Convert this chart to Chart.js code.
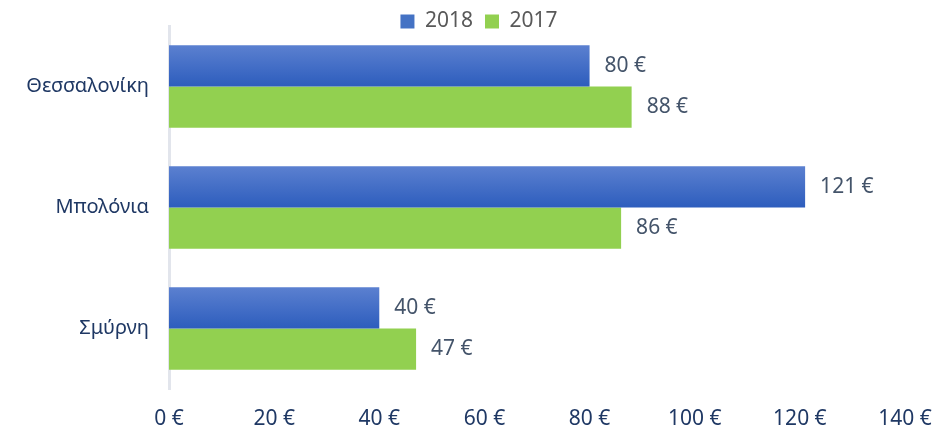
<!DOCTYPE html>
<html lang="el">
<head>
    <meta charset="UTF-8">
    <title>2018 - 2017</title>
    <script src="https://cdn.jsdelivr.net/npm/chart.js"></script>
    <style>
        body { margin: 0; background: #fff; }
        #wrap { width: 934px; height: 429px; }
    </style>
</head>
<body>
    <div id="wrap"><canvas id="chart"></canvas></div>

    <script>
        const cities = ['Θεσσαλονίκη', 'Μπολόνια', 'Σμύρνη'];
        const values2018 = [80, 121, 40];
        const values2017 = [88, 86, 47];
        const xTicks = [0, 20, 40, 60, 80, 100, 120, 140];

        const fontFamily = '"Noto Sans", "Liberation Sans", sans-serif';
        const euro = v => v + ' €';

        // blue bars get a soft vertical gradient, like the office chart
        const barGradient = {
            id: 'barGradient',
            beforeDatasetDraw(chart, args) {
                if (args.index !== 0) return;
                const c = chart.ctx;
                args.meta.data.forEach(el => {
                    const top = el.y - el.height / 2;
                    const g = c.createLinearGradient(0, top, 0, top + el.height);
                    g.addColorStop(0, '#5b80d0');
                    g.addColorStop(1, '#2d5dbd');
                    el.options.backgroundColor = g;
                });
            }
        };

        // keep the legend band short so the plot starts right under it
        const legendTweak = {
            id: 'legendTweak',
            afterInit(chart) {
                const lg = chart.legend;
                const fit = lg.fit;
                lg.fit = function () {
                    fit.call(this);
                    this.height = 26;
                };
            },
            afterLayout(chart) {
                // absolute values, this hook can run more than once
                const lg = chart.legend;
                lg.top = -1;
                lg.bottom = 40;
                lg.height = 41;
            }
        };

        const valueLabels = {
            id: 'valueLabels',
            afterDatasetsDraw(chart) {
                const c = chart.ctx;
                c.save();
                c.font = '21px ' + fontFamily;
                c.fillStyle = '#44546a';
                c.textBaseline = 'middle';
                c.textAlign = 'left';
                chart.data.datasets.forEach((ds, i) => {
                    chart.getDatasetMeta(i).data.forEach((el, j) => {
                        c.fillText(euro(ds.data[j]), el.x + 15, el.y);
                    });
                });
                c.restore();
            }
        };

        const ctx = document.getElementById('chart').getContext('2d');
        const chart = new Chart(ctx, {
            type: 'bar',
            data: {
                labels: cities,
                datasets: [{
                    label: '2018',
                    data: values2018,
                    // scriptable so every bar keeps its own options object
                    backgroundColor: () => '#4472c4',
                    borderWidth: 0
                }, {
                    label: '2017',
                    data: values2017,
                    backgroundColor: '#92d050',
                    borderWidth: 0
                }]
            },
            plugins: [barGradient, legendTweak, valueLabels],
            options: {
                indexAxis: 'y',
                responsive: true,
                maintainAspectRatio: false,
                animation: false,
                layout: { padding: { top: 0, right: 0, bottom: 0, left: 24 } },
                datasets: {
                    bar: { categoryPercentage: 0.68, barPercentage: 1 }
                },
                plugins: {
                    legend: {
                        position: 'top',
                        labels: {
                            boxWidth: 14,
                            boxHeight: 14,
                            padding: 12,
                            color: '#595959',
                            font: { family: fontFamily, size: 21 },
                            generateLabels: ch => ch.data.datasets.map((ds, i) => ({
                                text: ds.label,
                                fillStyle: i === 0 ? '#4472c4' : '#92d050',
                                strokeStyle: 'transparent',
                                lineWidth: 0,
                                fontColor: '#595959',
                                datasetIndex: i
                            }))
                        }
                    },
                    tooltip: { enabled: false }
                },
                scales: {
                    x: {
                        min: 0,
                        max: 140,
                        afterBuildTicks: axis => { axis.ticks = xTicks.map(v => ({ value: v })); },
                        afterFit: axis => {
                            axis.height = 40;
                            axis.paddingLeft = 0;
                            axis.paddingRight = 29;
                        },
                        grid: { display: false, drawTicks: false },
                        border: { display: false },
                        ticks: {
                            padding: 17,
                            maxRotation: 0,
                            color: '#1f3864',
                            font: { family: fontFamily, size: 21 },
                            callback: v => euro(v)
                        }
                    },
                    y: {
                        afterFit: axis => {
                            axis.width = 145;
                            axis.paddingTop = 0;
                            axis.paddingBottom = 0;
                        },
                        grid: { display: false, drawTicks: false },
                        border: { display: true, color: '#e2e5ec', width: 3 },
                        ticks: {
                            padding: 20,
                            color: '#1f3864',
                            font: { family: fontFamily, size: 20 }
                        }
                    }
                }
            }
        });
    </script>
</body>
</html>
